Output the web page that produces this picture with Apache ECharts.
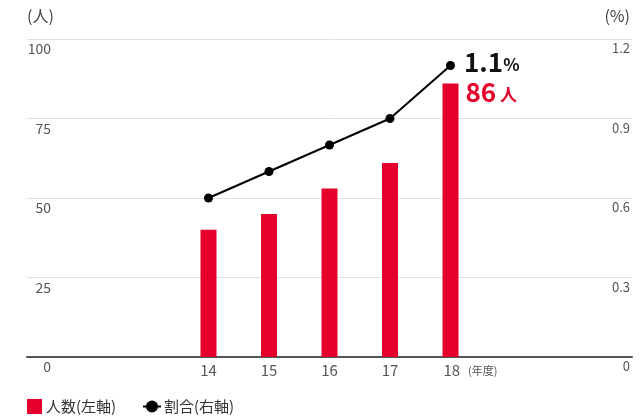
<!DOCTYPE html>
<html>
<head>
<meta charset="utf-8">
<script src="https://cdn.jsdelivr.net/npm/echarts@6/dist/echarts.min.js"></script>
<style>
    html, body { margin: 0; padding: 0; background: #fff; }
    #chart { width: 643px; height: 419px; }
</style>
</head>
<body>
<div id="chart"></div>
<script>
// 年度と値
const years = ['14', '15', '16', '17', '18'];
const people = [40, 45, 53, 61, 86];
const ratio = [0.6, 0.7, 0.8, 0.9, 1.1];
const leftTicks = [0, 25, 50, 75, 100];
const rightTicks = [0, 0.3, 0.6, 0.9, 1.2];

// 左に3つ、右に3つの空き枠
const padBefore = 3;
const padAfter = 3;
const categories = [];
for (let i = 0; i < padBefore; i++) categories.push('pre' + i);
years.forEach(y => categories.push(y));
for (let i = 0; i < padAfter; i++) categories.push('post' + i);

const red = '#e4002b';
const font = '"Noto Sans CJK JP", "Noto Sans", sans-serif';

const lastIdx = years.length - 1;
const barData = categories.map(() => null);
const lineData = categories.map(() => null);
years.forEach((y, i) => {
    const idx = padBefore + i;
    barData[idx] = people[i];
    lineData[idx] = ratio[i];
});
barData[padBefore + lastIdx] = {
    value: people[lastIdx],
    label: {
        show: true,
        position: [23, -4],
        formatter: '{n|' + people[lastIdx] + '}{u| 人}',
        rich: {
            n: { fontSize: 26, fontWeight: 'bold', color: red, fontFamily: font },
            u: { fontSize: 17, fontWeight: 'bold', color: red, fontFamily: font, padding: [4, 0, 0, 0] }
        }
    }
};
lineData[padBefore + lastIdx] = {
    value: ratio[lastIdx],
    label: {
        show: true,
        position: 'right',
        distance: 9,
        offset: [0, -3],
        formatter: '{n|' + ratio[lastIdx].toFixed(1) + '}{u|%}',
        rich: {
            n: { fontSize: 26, fontWeight: 'bold', color: '#111', fontFamily: font },
            u: { fontSize: 17, fontWeight: 'bold', color: '#111', fontFamily: font, padding: [5, 0, 0, 0] }
        }
    }
};

const myChart = echarts.init(document.getElementById('chart'));

const option = {
    animation: false,
    textStyle: { fontFamily: font },
    grid: {
        left: 27,
        right: 11,
        top: 39,
        bottom: 62
    },
    legend: [
        {
            data: [{ name: '人数(左軸)', icon: 'rect' }],
            left: 27,
            top: 399,
            padding: 0,
            itemWidth: 15,
            itemHeight: 15,
            itemGap: 5,
            textStyle: { color: '#333', fontSize: 15, fontFamily: font, padding: [0, 0, 0, -1] }
        },
        {
            data: ['割合(右軸)'],
            left: 142,
            top: 399,
            padding: 0,
            itemWidth: 18,
            itemHeight: 15,
            textStyle: { color: '#333', fontSize: 15, fontFamily: font, padding: [0, 0, 0, -2] }
        }
    ],
    xAxis: {
        type: 'category',
        boundaryGap: false,
        data: categories,
        axisLine: { show: true, lineStyle: { color: '#555', width: 2 } },
        axisTick: { show: false },
        splitLine: { show: false },
        axisLabel: {
            color: '#555',
            fontSize: 15,
            fontFamily: font,
            margin: 6,
            interval: 0,
            formatter: function (v) {
                if (years.indexOf(v) < 0) return '';
                if (v === years[lastIdx]) return '{p|}{d|' + v + '}{u|(年度)}';
                return v;
            },
            rich: {
                p: { width: 40 },
                d: { fontSize: 15, color: '#555', fontFamily: font },
                u: { fontSize: 11, color: '#555', fontFamily: font, padding: [0, 0, 0, 8] }
            }
        }
    },
    yAxis: [
        {
            type: 'value',
            min: leftTicks[0],
            max: leftTicks[leftTicks.length - 1],
            interval: leftTicks[1] - leftTicks[0],
            name: '(人)',
            nameLocation: 'end',
            nameGap: 15,
            nameTextStyle: { color: '#444', fontSize: 16, fontFamily: font, align: 'left' },
            axisLine: { show: false },
            axisTick: { show: false },
            axisLabel: {
                inside: true,
                margin: 24,
                align: 'right',
                verticalAlign: 'top',
                padding: [3, 0, 0, 0],
                color: '#555',
                fontSize: 14,
                fontFamily: font
            },
            splitLine: { show: true, lineStyle: { color: '#e0e0e0', width: 1 } }
        },
        {
            type: 'value',
            min: rightTicks[0],
            max: rightTicks[rightTicks.length - 1],
            interval: rightTicks[1] - rightTicks[0],
            name: '(%)',
            nameLocation: 'end',
            nameGap: 15,
            nameTextStyle: { color: '#444', fontSize: 16, fontFamily: font, align: 'right', padding: [0, 2, 0, 0] },
            axisLine: { show: false },
            axisTick: { show: false },
            axisLabel: {
                inside: true,
                margin: 2,
                verticalAlign: 'top',
                padding: [3, 0, 0, 0],
                color: '#555',
                fontSize: 13,
                fontFamily: font
            },
            splitLine: { show: false }
        }
    ],
    series: [
        {
            name: '人数(左軸)',
            type: 'bar',
            yAxisIndex: 0,
            barWidth: 16,
            itemStyle: { color: red },
            data: barData
        },
        {
            name: '割合(右軸)',
            type: 'line',
            yAxisIndex: 1,
            symbol: 'circle',
            symbolSize: 9,
            lineStyle: { color: '#000', width: 2 },
            itemStyle: { color: '#000' },
            connectNulls: false,
            data: lineData
        }
    ]
};

myChart.setOption(option);
</script>
</body>
</html>
